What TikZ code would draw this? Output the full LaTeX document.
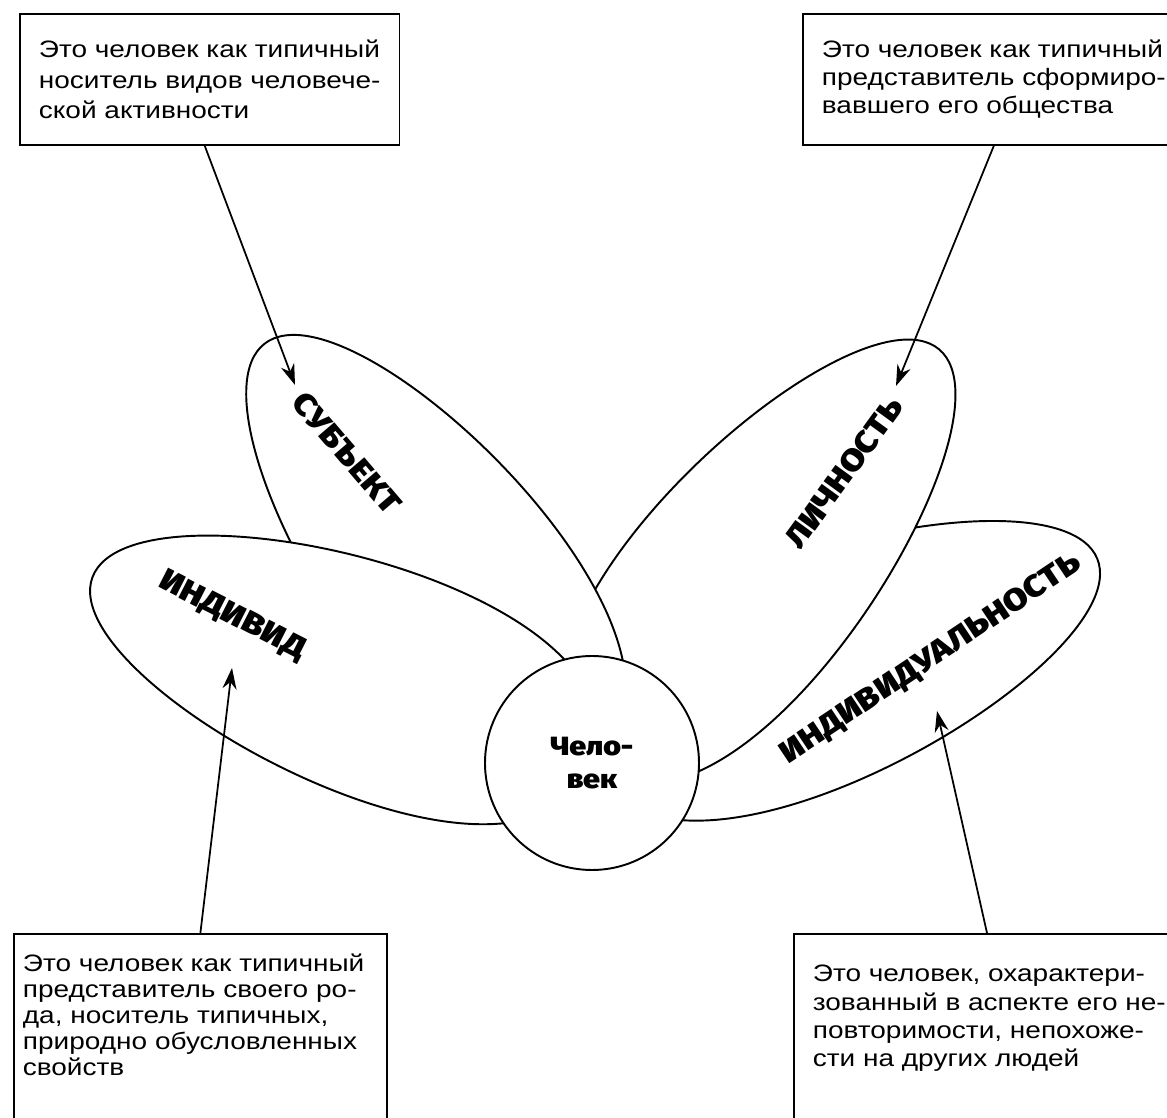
\documentclass[tikz,border=0pt]{standalone}
\usepackage{fontspec}
\setmainfont{Liberation Sans}[FakeStretch=1.18]
\newfontfamily\headfont{Fira Sans Black}[FakeStretch=1.15]
\usetikzlibrary{arrows.meta}

\newcommand{\petal}[2]{%
  \draw[petal, shift={(mid)}, rotate=#1] (0,0) .. controls (0,190) and (#2,115) .. (#2,0)
    .. controls (#2,-115) and (0,-190) .. (0,0) -- cycle;}

\begin{document}
\begin{tikzpicture}[x=0.2mm, y=0.2mm, line width=1.1pt,
    petal/.style={draw, fill=white},
    note/.style={draw, line width=1pt, anchor=north west, align=left, inner xsep=3.8mm,
      font=\fontsize{13.5}{16}\selectfont},
    word/.style={font=\headfont\fontsize{17.5}{20}\selectfont},
    pointer/.style={line width=1pt, -{Stealth[length=4.2mm,width=2.8mm]}}]
  \useasboundingbox (0,0) rectangle (1167,1118);
  \coordinate (mid) at (592,355);

  \foreach \ang/\len in {22/545, 50/540, 128/532, 159.6/533}
    \petal{\ang}{\len};

  \node[circle, draw, fill=white, minimum size=42.8mm, inner sep=0pt, align=center,
    font=\headfont\fontsize{15}{19}\selectfont] (man) at (mid) {Чело-\\век};

  \node[word, rotate=-49.5] (subj) at (347,665) {СУБЪЕКТ};
  \node[word, rotate=-27] (indiv) at (232,502) {ИНДИВИД};
  \node[word, rotate=54] (pers) at (844,645) {ЛИЧНОСТЬ};
  \node[word, rotate=33.7] (uniq) at (931,459) {ИНДИВИДУАЛЬНОСТЬ};

  \node[note, minimum width=75.6mm, minimum height=26.2mm,
    font=\fontsize{13.5}{17.5}\selectfont] (tlnote) at (19,1105)
    {Это человек как типичный\\носитель видов человече-\\ской активности};
  \node[note, minimum width=75.6mm, minimum height=26.2mm] (trnote) at (802,1105)
    {Это человек как типичный\\представитель сформиро-\\вавшего его общества};
  \node[note, text width=71mm, inner xsep=1.8mm, inner ysep=4mm, text depth=40mm,
    font=\fontsize{13.5}{14.8}\selectfont] (blnote) at (13,185)
    {Это человек как типичный\\представитель своего ро-\\да, носитель типичных,\\природно обусловленных\\свойств};
  \node[note, inner ysep=6.3mm, text depth=40mm] (brnote) at (793,185)
    {Это человек, охарактери-\\зованный в аспекте его не-\\повторимости, непохоже-\\сти на других людей};

  \coordinate (subjtip) at (295,733);
  \coordinate (perstip) at (896,732);
  \coordinate (indivtip) at (232,450);
  \coordinate (uniqtip) at (937,407);
  \draw[pointer] ([xshift=-1mm]tlnote.south) -- (subjtip);
  \draw[pointer] (trnote.south) -- (perstip);
  \draw[pointer] (blnote.north) -- (indivtip);
  \draw[pointer] ([xshift=38.8mm]brnote.north west) -- (uniqtip);
\end{tikzpicture}
\end{document}
